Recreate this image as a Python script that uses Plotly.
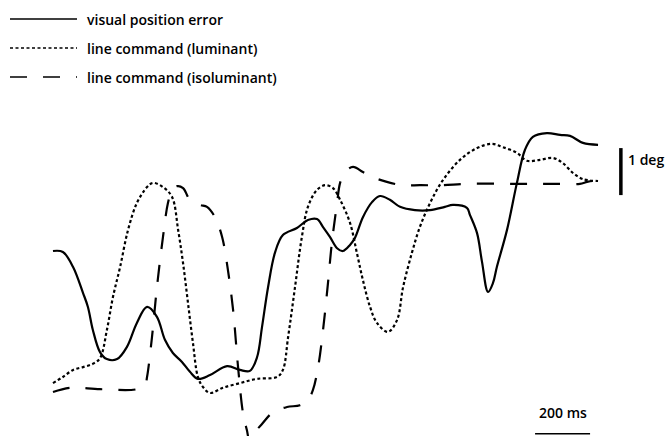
"""Eye trace: visual position error vs. line commands (luminant / isoluminant)."""

import plotly.graph_objects as go

# time in ms, position in deg
error_t = [0, 36, 73, 109, 127, 145, 171, 196, 233, 269, 305, 342, 378, 407, 436, 469,
           498, 527, 571, 633, 680, 716, 742, 760, 782, 807, 836, 887, 927, 960, 982,
           1007, 1033, 1054, 1080, 1098, 1127, 1160, 1189, 1225, 1262, 1316, 1371, 1425,
           1454, 1505, 1516, 1542, 1560, 1582, 1600, 1614, 1651, 1687, 1716, 1745, 1796,
           1844, 1880, 1927, 1982]
error_deg = [3.17, 3.15, 2.83, 2.28, 1.98, 1.49, 1.02, 0.87, 0.87, 1.13, 1.64, 1.98, 1.77,
             1.28, 1.00, 0.81, 0.60, 0.45, 0.53, 0.72, 0.64, 0.62, 0.91, 1.55, 2.40, 3.13,
             3.51, 3.66, 3.83, 3.85, 3.68, 3.47, 3.23, 3.17, 3.30, 3.45, 3.89, 4.21, 4.34,
             4.26, 4.11, 4.04, 4.04, 4.11, 4.15, 4.09, 3.94, 3.55, 2.94, 2.30, 2.49, 2.83,
             3.62, 4.62, 5.32, 5.60, 5.68, 5.64, 5.62, 5.47, 5.43]

lum_t = [0, 36, 73, 109, 145, 171, 196, 218, 244, 273, 305, 342, 364, 400, 433, 455, 473,
         491, 509, 527, 545, 571, 618, 680, 742, 815, 836, 855, 880, 905, 927, 960, 989,
         1018, 1044, 1080, 1105, 1127, 1153, 1178, 1218, 1251, 1273, 1305, 1334, 1371,
         1418, 1480, 1542, 1596, 1636, 1687, 1723, 1771, 1818, 1854, 1891, 1927, 1982]
lum_deg = [0.36, 0.49, 0.64, 0.70, 0.77, 0.89, 1.49, 2.19, 2.83, 3.62, 4.19, 4.53, 4.62,
           4.53, 4.32, 3.62, 2.91, 2.06, 1.21, 0.49, 0.28, 0.15, 0.26, 0.36, 0.45, 0.49,
           0.64, 1.34, 2.40, 3.47, 4.11, 4.47, 4.57, 4.51, 4.26, 3.77, 3.13, 2.55, 1.98,
           1.64, 1.45, 1.70, 2.40, 3.13, 3.68, 4.19, 4.68, 5.11, 5.36, 5.45, 5.38, 5.26,
           5.09, 5.11, 5.15, 5.04, 4.83, 4.70, 4.66]

iso_t = [0, 62, 171, 305, 335, 342, 360, 378, 400, 418, 433, 451, 473, 498, 535, 560, 589,
         615, 636, 655, 673, 691, 705, 716, 735, 760, 800, 851, 898, 927, 945, 964, 982,
         1000, 1014, 1033, 1044, 1062, 1091, 1127, 1164, 1214, 1273, 1334, 1407, 1516,
         1698, 1844, 1916, 1942, 1964, 1982]
iso_deg = [0.17, 0.26, 0.23, 0.23, 0.32, 0.49, 1.34, 2.40, 3.47, 4.19, 4.47, 4.55, 4.51,
           4.26, 4.15, 4.11, 3.89, 3.47, 2.77, 1.91, 0.70, -0.28, -0.64, -0.89, -0.68,
           -0.51, -0.26, -0.15, -0.11, 0.00, 0.21, 0.70, 1.49, 2.49, 3.34, 4.19, 4.62,
           4.85, 4.96, 4.85, 4.74, 4.64, 4.57, 4.57, 4.57, 4.60, 4.60, 4.60, 4.60, 4.64,
           4.66, 4.66]

legend_labels = ["visual position error", "line command (luminant)",
                 "line command (isoluminant)"]

# scale bars
time_bar_start, time_bar_ms, time_bar_y = 1753, 200, -0.72
deg_bar_x, deg_bar_bottom, deg_bar_deg = 2065, 4.36, 1

W, H = 669, 436
FONT = dict(family="Open Sans", size=14, color="black", weight=600)

fig = go.Figure()
fig.add_trace(go.Scatter(x=error_t, y=error_deg, mode="lines", line_shape="spline",
                         line=dict(color="black", width=2.2)))
fig.add_trace(go.Scatter(x=lum_t, y=lum_deg, mode="lines", line_shape="spline",
                         line=dict(color="black", width=2.2, dash="3px,2.5px")))
fig.add_trace(go.Scatter(x=iso_t, y=iso_deg, mode="lines", line_shape="spline",
                         line=dict(color="black", width=2.2, dash="17px,16px")))


def px(x, y):
    return x / W, 1 - y / H


# hand-drawn legend
legend_dash = ["solid", "3px,2.5px", "17px,16px"]
for i, (label, dash) in enumerate(zip(legend_labels, legend_dash)):
    yy = 19 + 29 * i
    x0, y0 = px(10, yy)
    x1, _ = px(77, yy)
    fig.add_shape(type="line", xref="paper", yref="paper", x0=x0, x1=x1, y0=y0, y1=y0,
                  line=dict(color="black", width=1.5, dash=dash))
    tx, ty = px(85, yy)
    fig.add_annotation(xref="paper", yref="paper", x=tx, y=ty, text=label,
                       showarrow=False, xanchor="left", yanchor="middle", font=FONT)

fig.add_shape(type="line", x0=time_bar_start, x1=time_bar_start + time_bar_ms,
              y0=time_bar_y, y1=time_bar_y, line=dict(color="black", width=1.5))
fig.add_annotation(x=time_bar_start + time_bar_ms / 2, y=time_bar_y, yshift=21,
                   text="200 ms", showarrow=False, font=FONT)
fig.add_shape(type="line", x0=deg_bar_x, x1=deg_bar_x, y0=deg_bar_bottom,
              y1=deg_bar_bottom + deg_bar_deg, line=dict(color="black", width=3.5))
fig.add_annotation(x=deg_bar_x, y=deg_bar_bottom + 0.75 * deg_bar_deg, xshift=5,
                   text="1 deg", showarrow=False, xanchor="left", font=FONT)

fig.update_layout(
    width=W, height=H, margin=dict(l=0, r=0, t=0, b=0),
    plot_bgcolor="white", paper_bgcolor="white", showlegend=False,
    xaxis=dict(range=[-192.7, 2240], visible=False),
    yaxis=dict(range=[-0.766, 8.511], visible=False),
)

# the page's default body margin would shift the figure by 8px
fig.write_html("out.html", config={"displayModeBar": False},
               post_script="document.body.style.margin = '0';")
